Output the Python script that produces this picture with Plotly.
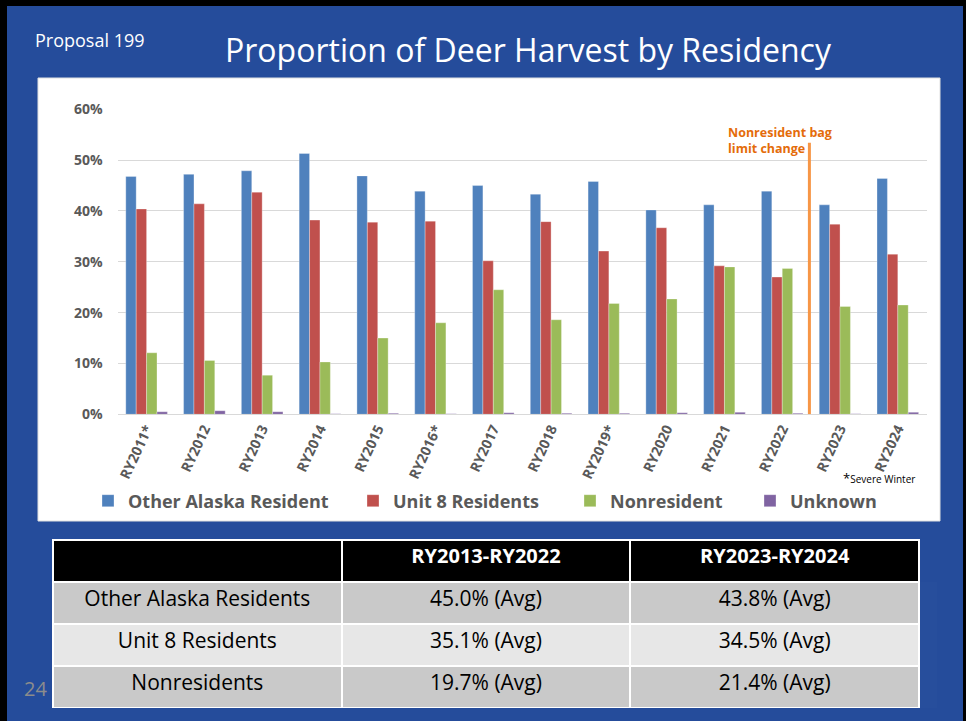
import plotly.graph_objects as go

# ---- data ----
years = ['RY2011*', 'RY2012', 'RY2013', 'RY2014', 'RY2015', 'RY2016*', 'RY2017',
         'RY2018', 'RY2019*', 'RY2020', 'RY2021', 'RY2022', 'RY2023', 'RY2024']
other_ak = [0.468, 0.472, 0.479, 0.513, 0.469, 0.439, 0.450,
            0.433, 0.458, 0.402, 0.412, 0.439, 0.412, 0.464]
unit8 = [0.404, 0.414, 0.437, 0.382, 0.378, 0.380, 0.302,
         0.379, 0.321, 0.367, 0.292, 0.270, 0.374, 0.315]
nonres = [0.121, 0.106, 0.077, 0.103, 0.150, 0.180, 0.245,
          0.186, 0.218, 0.227, 0.290, 0.287, 0.212, 0.215]
unknown = [0.005, 0.007, 0.005, 0.001, 0.002, 0.001, 0.003,
           0.002, 0.002, 0.003, 0.004, 0.002, 0.001, 0.004]

table_header = ['', 'RY2013-RY2022', 'RY2023-RY2024']
table_groups = ['Other Alaska Residents', 'Unit 8 Residents', 'Nonresidents']
avg_2013_2022 = ['45.0% (Avg)', '35.1% (Avg)', '19.7% (Avg)']
avg_2023_2024 = ['43.8% (Avg)', '34.5% (Avg)', '21.4% (Avg)']

W, H = 966, 721
FONT = 'Liberation Sans Narrow, Open Sans, sans-serif'
GREY = '#595959'

def px(x):
    return x / W

def py(y):
    return 1 - y / H

fig = go.Figure()

# each series gets its own legend so the entries sit where the slide has them
series = [
    ('Other Alaska Resident', other_ak, '#4F81BD', 'legend', 88),
    ('Unit 8 Residents', unit8, '#C0504D', 'legend2', 353),
    ('Nonresident', nonres, '#9BBB59', 'legend3', 570),
    ('Unknown', unknown, '#8064A2', 'legend4', 750),
]
legend_style = dict(orientation='h', yanchor='middle', xanchor='left', y=py(501),
                    font=dict(family=FONT, size=18, color=GREY, weight='bold'),
                    bgcolor='rgba(0,0,0,0)', itemwidth=30)
legends = {}
for name, vals, col, leg, lx in series:
    fig.add_trace(go.Bar(x=years, y=vals, name=name, marker_color=col,
                         marker_line=dict(color='rgba(255,255,255,0.6)', width=0.5),
                         legend=leg, hoverinfo='skip'))
    legends[leg] = dict(legend_style, x=px(lx))

# summary table
row_fill = ['#C9C9C9', '#E7E7E7', '#C9C9C9']
fig.add_trace(go.Table(
    domain=dict(x=[px(53), px(919)], y=[py(708), py(540)]),
    columnwidth=[1, 1, 1],
    header=dict(values=table_header, fill_color='black', height=42,
                line=dict(color='white', width=2), align='center',
                font=dict(family=FONT, size=20, color='white', weight='bold')),
    cells=dict(values=[table_groups, avg_2013_2022, avg_2023_2024],
               fill_color=[row_fill] * 3, height=42,
               line=dict(color='white', width=2), align='center',
               font=dict(family=FONT, size=21, color='black')),
))

fig.update_layout(
    width=W, height=H,
    margin=dict(l=0, r=0, t=0, b=0, autoexpand=False),
    paper_bgcolor='#254C9B',
    plot_bgcolor='white',
    barmode='group',
    bargap=0.28,
    bargroupgap=0,
    font=dict(family=FONT, color=GREY),
    showlegend=True,
    xaxis=dict(domain=[px(117.7), px(926.7)], tickangle=-65, showgrid=False,
               showline=True, linecolor='#D9D9D9', ticks='', automargin=False,
               tickfont=dict(family=FONT, size=14, color=GREY, weight='bold')),
    yaxis=dict(domain=[py(414.3), py(109.3)], range=[0, 0.6], dtick=0.1,
               tickformat='.0%', gridcolor='#D9D9D9', zeroline=False,
               ticklabelstandoff=14, automargin=False,
               tickfont=dict(family=FONT, size=14, color=GREY, weight='bold')),
    shapes=[
        # slide frame
        dict(type='rect', xref='paper', yref='paper', x0=0, x1=px(7), y0=0, y1=1,
             fillcolor='black', line_width=0, layer='below'),
        dict(type='rect', xref='paper', yref='paper', x0=px(963), x1=1, y0=0, y1=1,
             fillcolor='black', line_width=0, layer='below'),
        dict(type='rect', xref='paper', yref='paper', x0=0, x1=1, y0=py(6), y1=1,
             fillcolor='black', line_width=0, layer='below'),
        # white chart panel
        dict(type='rect', xref='paper', yref='paper', x0=px(38), x1=px(940),
             y0=py(521), y1=py(78), fillcolor='white',
             line=dict(color='#E0E0E0', width=1), layer='below'),
        # bag limit change marker
        dict(type='line', xref='x', yref='y', x0=11.47, x1=11.47, y0=0, y1=0.534,
             line=dict(color='#F79646', width=3)),
    ],
    annotations=[
        dict(text='Proportion of Deer Harvest by Residency', xref='paper', yref='paper',
             x=px(528), y=py(50), showarrow=False, xanchor='center', yanchor='middle',
             font=dict(family=FONT, size=32, color='white')),
        dict(text='Proposal 199', xref='paper', yref='paper', x=px(33), y=py(40),
             showarrow=False, xanchor='left', yanchor='middle',
             font=dict(family=FONT, size=18, color='white')),
        dict(text='Nonresident bag<br>limit change', xref='paper', yref='paper',
             x=px(726), y=py(122), showarrow=False, xanchor='left', yanchor='top',
             align='left', font=dict(family=FONT, size=12.5, color='#E46C0A', weight='bold')),
        dict(text='<span style="font-size:13px">*</span>Severe Winter', xref='paper',
             yref='paper', x=px(841), y=py(478), showarrow=False, xanchor='left',
             yanchor='middle', font=dict(family=FONT, size=10, color='black')),
        dict(text='24', xref='paper', yref='paper', x=px(35), y=py(688), showarrow=False,
             xanchor='center', yanchor='middle', font=dict(family=FONT, size=20, color='#8C8C8C')),
    ],
    **legends,
)

fig.write_html("out.html", config={'displayModeBar': False},
               post_script="document.body.style.margin='0';document.body.style.overflow='hidden';")
